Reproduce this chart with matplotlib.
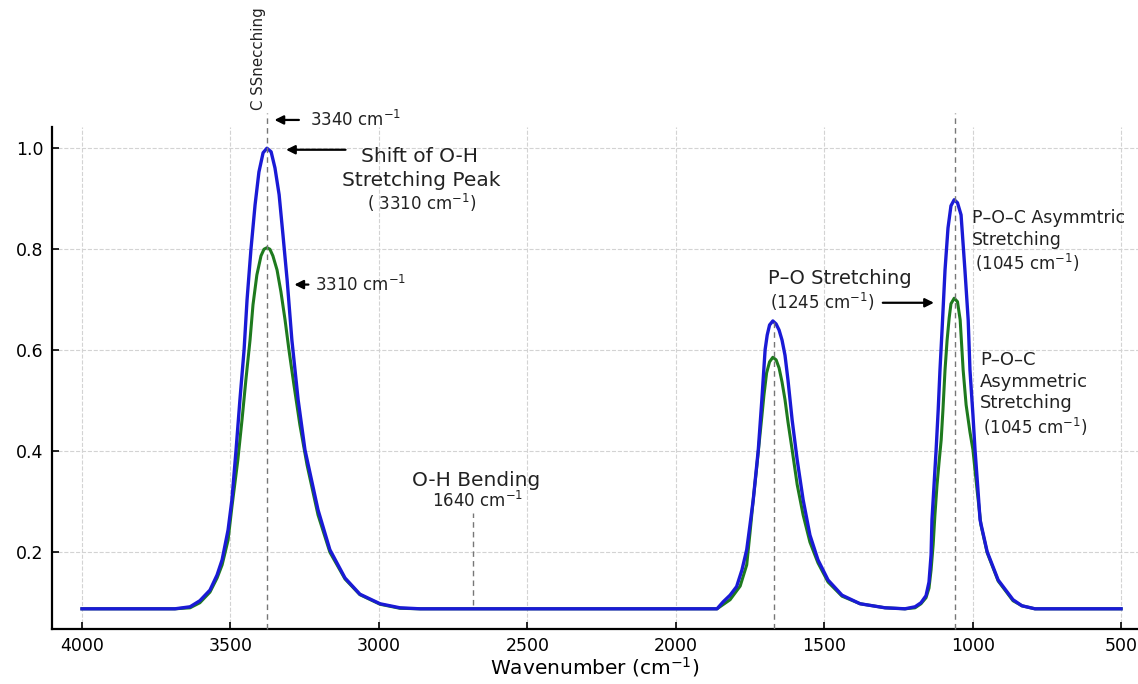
import matplotlib
matplotlib.use('Agg')
import matplotlib.pyplot as plt

# ── spectra (wavenumber cm-1 -> absorbance) ──────────────────────────────────
blue_wn = [4000, 3687, 3636, 3603, 3569, 3545, 3528, 3508, 3495, 3481, 3468,
           3454, 3444, 3431, 3417, 3404, 3390, 3377, 3363, 3350, 3336, 3323,
           3309, 3293, 3272, 3249, 3205, 3165, 3114, 3064, 2996, 2929, 2861,
           1861, 1840, 1817, 1795, 1777, 1761, 1750, 1739, 1722, 1710, 1699,
           1692, 1684, 1673, 1662, 1652, 1642, 1632, 1622, 1608, 1591, 1571,
           1548, 1521, 1487, 1440, 1379, 1295,
           1228, 1194, 1174, 1157, 1147, 1140, 1137, 1130, 1123, 1116, 1110,
           1103, 1093, 1083, 1073, 1062, 1051, 1039, 1026, 1015, 1009, 999,
           992, 982, 975, 951, 914, 864, 834, 790, 500]
blue_abs = [0.088, 0.088, 0.092, 0.104, 0.125, 0.155, 0.185, 0.244, 0.304, 0.403, 0.502,
            0.601, 0.700, 0.799, 0.888, 0.953, 0.991, 1.000, 0.993, 0.961, 0.908, 0.828,
            0.739, 0.620, 0.502, 0.403, 0.284, 0.205, 0.149, 0.117, 0.098, 0.090, 0.088,
            0.088, 0.102, 0.115, 0.132, 0.165, 0.205, 0.254, 0.304, 0.403, 0.502, 0.601,
            0.630, 0.650, 0.658, 0.652, 0.640, 0.620, 0.590, 0.541, 0.462, 0.383, 0.304,
            0.234, 0.185, 0.145, 0.115, 0.098, 0.090,
            0.088, 0.092, 0.100, 0.114, 0.141, 0.195, 0.264, 0.333, 0.403, 0.482, 0.561,
            0.640, 0.759, 0.842, 0.886, 0.898, 0.892, 0.868, 0.759, 0.660, 0.561, 0.472,
            0.403, 0.323, 0.264, 0.201, 0.145, 0.106, 0.094, 0.088, 0.088]

green_wn = [4000, 3687, 3636, 3603, 3569, 3545, 3528, 3508, 3495, 3475, 3461,
            3448, 3434, 3424, 3411, 3397, 3387, 3377, 3367, 3357, 3343, 3330,
            3316, 3303, 3286, 3266, 3242, 3205, 3165, 3114, 3064, 2996, 2929, 2861,
            1861, 1817, 1783, 1761, 1750, 1739, 1727, 1710, 1703, 1694, 1684,
            1673, 1662, 1652, 1642, 1632, 1622, 1608, 1591, 1571, 1548, 1521,
            1487, 1440, 1379, 1295,
            1228, 1194, 1174, 1157, 1147, 1140, 1133, 1127, 1120, 1113, 1106,
            1100, 1093, 1086, 1079, 1073, 1062, 1051, 1042, 1032, 1022, 1009,
            999, 985, 972, 951, 914, 864, 834, 790, 500]
green_abs = [0.088, 0.088, 0.090, 0.100, 0.121, 0.149, 0.175, 0.224, 0.290, 0.383, 0.462,
             0.541, 0.620, 0.690, 0.749, 0.787, 0.800, 0.803, 0.800, 0.787, 0.759, 0.716,
             0.660, 0.601, 0.531, 0.452, 0.373, 0.274, 0.200, 0.147, 0.116, 0.097, 0.089, 0.088,
             0.088, 0.106, 0.133, 0.175, 0.238, 0.304, 0.370, 0.469, 0.511, 0.555, 0.577,
             0.586, 0.581, 0.565, 0.537, 0.502, 0.458, 0.403, 0.334, 0.274, 0.220, 0.179,
             0.141, 0.113, 0.098, 0.090,
             0.088, 0.090, 0.098, 0.110, 0.129, 0.165, 0.215, 0.274, 0.333, 0.379, 0.422,
             0.482, 0.561, 0.620, 0.664, 0.692, 0.703, 0.696, 0.660, 0.561, 0.492, 0.438,
             0.403, 0.323, 0.254, 0.199, 0.143, 0.104, 0.094, 0.088, 0.088]

marker_lines = [3378, 2682, 1668, 1060]
x_ticks = [4000, 3500, 3000, 2500, 2000, 1500, 1000, 500]
y_ticks = [0.2, 0.4, 0.6, 0.8, 1.0]

# ─────────────────────────────────────────────────────────────────────────────
fig = plt.figure(figsize=(11.38, 6.84), dpi=100)
ax = fig.add_axes([0.0457, 0.0804, 0.9543, 0.7339])

ax.grid(True, linestyle='--', color='#d3d3d3', linewidth=0.8)
ax.set_axisbelow(True)

ax.plot(green_wn, green_abs, color='#1e7a1e', lw=2.2, zorder=3, solid_joinstyle='round')
ax.plot(blue_wn, blue_abs, color='#1a1ad6', lw=2.4, zorder=4, solid_joinstyle='round')

ax.set_xlim(4101, 443)
ax.set_ylim(0.048, 1.042)
ax.set_xticks(x_ticks)
ax.set_yticks(y_ticks)
ax.tick_params(direction='in', length=5, width=1.2, labelsize=12.5, pad=6)
for s in ['top', 'right']:
    ax.spines[s].set_visible(False)
for s in ['left', 'bottom']:
    ax.spines[s].set_linewidth(1.6)
ax.set_xlabel('Wavenumber (cm$^{-1}$)', fontsize=14.5, labelpad=0)

# dashed marker lines
dash = dict(color='#777777', lw=1.0, linestyle=(0, (4, 3)))
ax.plot([marker_lines[0]] * 2, [0.048, 1.07], clip_on=False, zorder=5, **dash)
ax.plot([marker_lines[1]] * 2, [0.096, 0.278], zorder=5, **dash)
ax.plot([marker_lines[2]] * 2, [0.048, 0.656], zorder=5, **dash)
ax.plot([marker_lines[3]] * 2, [0.048, 1.07], clip_on=False, zorder=5, **dash)

ax.text(3404, 1.076, 'C SSnecching', rotation=90, fontsize=10.8, color='#222222',
        ha='center', va='bottom', clip_on=False)

arrow = dict(arrowstyle='-|>', color='black', lw=1.6, mutation_scale=13)
txt = '#222222'

ax.annotate('', xy=(3361, 1.056), xytext=(3260, 1.056), arrowprops=arrow,
            annotation_clip=False)
ax.text(3232, 1.056, '3340 cm$^{-1}$', fontsize=12, color=txt, ha='left',
        va='center', clip_on=False)

ax.annotate('', xy=(3322, 0.997), xytext=(3103, 0.997), arrowprops=arrow)
ax.text(2862, 0.983, 'Shift of O-H', fontsize=14.5, color=txt, ha='center', va='center')
ax.text(2858, 0.937, 'Stretching Peak', fontsize=14.5, color=txt, ha='center', va='center')
ax.text(2855, 0.892, '( 3310 cm$^{-1}$)', fontsize=12, color=txt, ha='center', va='center')

ax.annotate('', xy=(3294, 0.73), xytext=(3228, 0.73), arrowprops=arrow)
ax.text(3215, 0.73, '3310 cm$^{-1}$', fontsize=12, color=txt, ha='left', va='center')

ax.text(2673, 0.343, 'O-H Bending', fontsize=14.5, color=txt, ha='center', va='center')
ax.text(2668, 0.302, '1640 cm$^{-1}$', fontsize=12, color=txt, ha='center', va='center')

ax.text(1689, 0.743, 'P–O Stretching', fontsize=14, color=txt, ha='left', va='center')
ax.text(1682, 0.696, '(1245 cm$^{-1}$)', fontsize=12, color=txt, ha='left', va='center')
ax.annotate('', xy=(1121, 0.694), xytext=(1312, 0.694), arrowprops=arrow)

ax.text(1003, 0.861, 'P–O–C Asymmtric', fontsize=12.5, color=txt, ha='left', va='center')
ax.text(1003, 0.818, 'Stretching', fontsize=12.5, color=txt, ha='left', va='center')
ax.text(992, 0.772, '(1045 cm$^{-1}$)', fontsize=12, color=txt, ha='left', va='center')

ax.text(975, 0.581, 'P–O–C', fontsize=13, color=txt, ha='left', va='center')
ax.text(975, 0.538, 'Asymmetric', fontsize=13, color=txt, ha='left', va='center')
ax.text(975, 0.495, 'Stretching', fontsize=13, color=txt, ha='left', va='center')
ax.text(966, 0.449, '(1045 cm$^{-1}$)', fontsize=12, color=txt, ha='left', va='center')

fig.savefig('out.png', dpi=100)
